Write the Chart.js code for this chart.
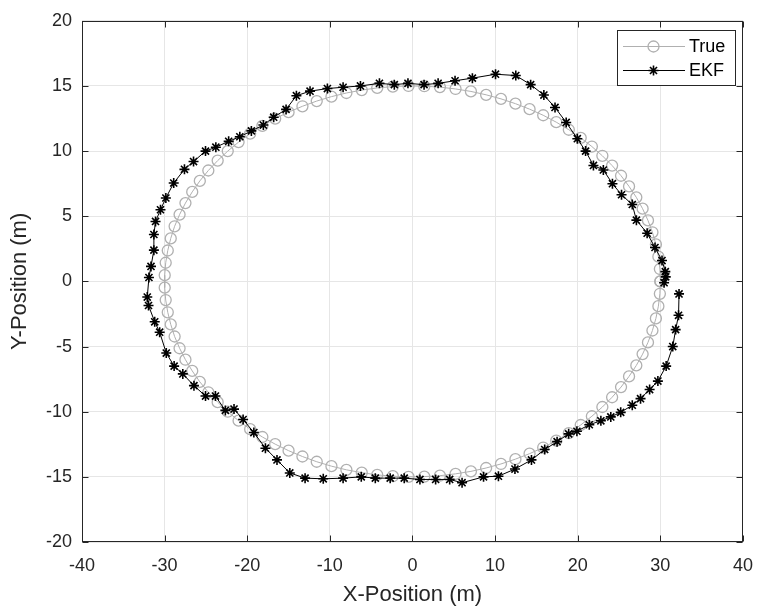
<!DOCTYPE html>
<html>
<head>
<meta charset="utf-8">
<script src="https://cdn.jsdelivr.net/npm/chart.js@4.4.1/dist/chart.umd.min.js"></script>
<style>
  body { margin: 0; background: #fff; }
  #wrap { width: 766px; height: 614px; }
</style>
</head>
<body>
<div id="wrap"><canvas id="chart"></canvas></div>
<script>
// DATA
var xTicks = [-40, -30, -20, -10, 0, 10, 20, 30, 40];
var yTicks = [-20, -15, -10, -5, 0, 5, 10, 15, 20];

var trueX = [30.00, 29.94, 29.76, 29.46, 29.04, 28.50, 27.85, 27.09, 26.21, 25.24, 24.16, 22.98, 21.71, 20.36, 18.92, 17.40, 15.82, 14.17, 12.46, 10.71, 8.91, 7.07, 5.21, 3.32, 1.43,
  -0.48, -2.38, -4.27, -6.14, -8.00, -9.81, -11.59, -13.32, -15.00, -16.62, -18.17, -19.65, -21.05, -22.36, -23.58, -24.71, -25.74, -26.66, -27.48, -28.19, -28.79, -29.26, -29.62, -29.87, -29.99,
  -29.99, -29.87, -29.62, -29.26, -28.79, -28.19, -27.48, -26.66, -25.74, -24.71, -23.58, -22.36, -21.05, -19.65, -18.17, -16.62, -15.00, -13.32, -11.59, -9.81, -8.00, -6.14, -4.27, -2.38, -0.48,
  1.43, 3.32, 5.21, 7.07, 8.91, 10.71, 12.46, 14.17, 15.82, 17.40, 18.92, 20.36, 21.71, 22.98, 24.16, 25.24, 26.21, 27.09, 27.85, 28.50, 29.04, 29.46, 29.76, 29.94, 30.00];
var trueY = [0.00, 0.95, 1.90, 2.84, 3.77, 4.68, 5.58, 6.45, 7.29, 8.11, 8.89, 9.64, 10.35, 11.02, 11.64, 12.22, 12.75, 13.22, 13.64, 14.01, 14.32, 14.58, 14.77, 14.91, 14.98,
  15.00, 14.95, 14.85, 14.68, 14.46, 14.18, 13.84, 13.44, 12.99, 12.49, 11.94, 11.34, 10.69, 10.00, 9.27, 8.51, 7.71, 6.87, 6.01, 5.13, 4.23, 3.30, 2.37, 1.43, 0.48,
  -0.48, -1.43, -2.37, -3.30, -4.23, -5.13, -6.01, -6.87, -7.71, -8.51, -9.27, -10.00, -10.69, -11.34, -11.94, -12.49, -12.99, -13.44, -13.84, -14.18, -14.46, -14.68, -14.85, -14.95, -15.00,
  -14.98, -14.91, -14.77, -14.58, -14.32, -14.01, -13.64, -13.22, -12.75, -12.22, -11.64, -11.02, -10.35, -9.64, -8.89, -8.11, -7.29, -6.45, -5.58, -4.68, -3.77, -2.84, -1.90, -0.95, 0.00];

var ekfX = [32.26, 32.2, 31.85, 31.5, 30.7, 29.7, 28.7, 27.6, 26.6, 25.2, 24.0, 22.8, 21.4, 19.9, 18.9, 17.5, 16.0, 14.4, 12.4, 10.4,
  8.6, 6.0, 4.5, 2.8, 0.9, -1.0, -2.7, -4.5, -6.2, -8.4, -10.8, -13.0, -14.85, -16.4, -17.8, -19.2, -20.5, -21.6, -22.65, -23.85,
  -25.05, -26.45, -27.8, -28.85, -29.8, -30.6, -31.2, -31.95, -32.1, -31.9, -31.65, -31.3, -31.3, -31.1, -30.5, -29.85, -28.9, -27.6, -26.5, -25.05,
  -23.8, -22.25, -20.9, -19.5, -18.05, -16.8, -15.3, -14.05, -12.4, -10.3, -8.4, -6.3, -4.0, -2.2, -0.55, 1.4, 3.1, 5.15, 7.25, 10.05,
  12.5, 14.3, 15.9, 17.25, 18.6, 19.95, 20.95, 21.9, 23.1, 24.2, 25.3, 26.6, 27.1, 28.4, 29.35, 30.2, 30.6, 30.65, 30.45];
var ekfY = [-0.96, -2.6, -3.7, -5.0, -6.5, -7.65, -8.3, -9.0, -9.5, -10.05, -10.4, -10.7, -11.0, -11.5, -11.7, -12.3, -12.9, -13.7, -14.4, -14.95,
  -15.0, -15.45, -15.2, -15.2, -15.2, -15.1, -15.1, -15.1, -15.0, -15.1, -15.15, -15.1, -14.7, -13.7, -12.8, -11.6, -10.6, -9.8, -9.9, -8.8,
  -8.8, -8.0, -7.1, -6.5, -5.5, -3.9, -3.1, -1.85, -1.2, 0.3, 1.15, 2.4, 3.6, 4.6, 5.5, 6.4, 7.55, 8.6, 9.2, 10.0,
  10.3, 10.75, 11.1, 11.55, 12.0, 12.6, 13.2, 14.25, 14.6, 14.8, 14.9, 15.0, 15.2, 15.1, 15.2, 15.1, 15.2, 15.4, 15.6, 15.9,
  15.8, 15.1, 14.3, 13.35, 12.2, 10.95, 10.0, 8.9, 8.55, 7.5, 6.65, 5.9, 4.7, 3.7, 2.6, 1.6, 0.75, 0.35, -0.1];

var seriesNames = ['True', 'EKF'];

// STYLE
var AXIS = '#262626';
var GRID = '#e6e6e6';
var GRAY = '#b0b0b0';
var FONT = '"Liberation Sans", Arial, Helvetica, sans-serif';

function toPoints(xs, ys) {
  return xs.map((x, i) => ({ x: x, y: ys[i] }));
}

// box + inward ticks + legend, drawn on top like MATLAB
var matlabAxes = {
  id: 'matlabAxes',
  afterDraw(chart) {
    const ctx = chart.ctx;
    const a = chart.chartArea;
    const sx = chart.scales.x, sy = chart.scales.y;
    const L = Math.round(a.left) + 0.5, R = Math.round(a.right) - 0.5;
    const T = Math.round(a.top) + 0.5, B = Math.round(a.bottom) - 0.5;
    const tl = 6;
    ctx.save();
    ctx.strokeStyle = AXIS;
    ctx.lineWidth = 1;
    ctx.strokeRect(L, T, R - L, B - T);
    ctx.beginPath();
    xTicks.forEach(v => {
      const px = Math.round(sx.getPixelForValue(v)) + 0.5;
      ctx.moveTo(px, B); ctx.lineTo(px, B - tl);
      ctx.moveTo(px, T); ctx.lineTo(px, T + tl);
    });
    yTicks.forEach(v => {
      const py = Math.round(sy.getPixelForValue(v)) + 0.5;
      ctx.moveTo(L, py); ctx.lineTo(L + tl, py);
      ctx.moveTo(R, py); ctx.lineTo(R - tl, py);
    });
    ctx.stroke();

    // legend
    const bx = 617.5, by = 30.5, bw = 118, bh = 55;
    ctx.fillStyle = '#fff';
    ctx.fillRect(bx, by, bw, bh);
    ctx.strokeStyle = AXIS;
    ctx.strokeRect(bx, by, bw, bh);
    const rows = [46, 70];
    ctx.font = '18px ' + FONT;
    ctx.textBaseline = 'middle';
    ctx.textAlign = 'left';
    chart.data.datasets.forEach((ds, i) => {
      const y = rows[i] + 0.5;
      ctx.strokeStyle = ds.borderColor;
      ctx.fillStyle = ds.pointBackgroundColor;
      ctx.lineWidth = 1;
      ctx.beginPath();
      ctx.moveTo(623, y); ctx.lineTo(685, y);
      ctx.stroke();
      ctx.lineWidth = ds.pointBorderWidth;
      Chart.helpers.drawPoint(ctx, {
        pointStyle: ds.pointStyle,
        radius: ds.pointRadius,
        borderWidth: ds.pointBorderWidth,
        rotation: 0
      }, 653.5, y);
      ctx.fillStyle = '#000';
      ctx.fillText(ds.label, 689, y + 1);
    });
    ctx.restore();
  }
};

var chart = new Chart(document.getElementById('chart'), {
  type: 'scatter',
  data: {
    datasets: [
      {
        label: seriesNames[0],
        data: toPoints(trueX, trueY),
        showLine: true,
        borderColor: GRAY,
        borderWidth: 1,
        pointStyle: 'circle',
        pointRadius: 5.5,
        pointBorderWidth: 1.3,
        pointBorderColor: GRAY,
        pointBackgroundColor: 'rgba(0,0,0,0)',
        order: 2
      },
      {
        label: seriesNames[1],
        data: toPoints(ekfX, ekfY),
        showLine: true,
        borderColor: '#000',
        borderWidth: 1,
        pointStyle: 'star',
        pointRadius: 5,
        pointBorderWidth: 1.6,
        pointBorderColor: '#000',
        pointBackgroundColor: '#000',
        order: 1
      }
    ]
  },
  options: {
    responsive: true,
    maintainAspectRatio: false,
    animation: false,
    events: [],
    layout: { padding: { top: 14, right: 16, left: 0, bottom: 0 } },
    plugins: {
      legend: { display: false },
      tooltip: { enabled: false }
    },
    scales: {
      x: {
        type: 'linear',
        min: -40, max: 40,
        afterBuildTicks: s => { s.ticks = xTicks.map(v => ({ value: v })); },
        afterFit: s => { s.height = 72; },
        ticks: { color: AXIS, font: { family: FONT, size: 18 }, padding: 13, maxRotation: 0 },
        grid: { color: GRID, drawTicks: false },
        border: { display: false },
        title: { display: true, text: 'X-Position (m)', color: AXIS, font: { family: FONT, size: 22 }, padding: { top: 0, bottom: 6 } }
      },
      y: {
        type: 'linear',
        min: -20, max: 20,
        afterBuildTicks: s => { s.ticks = yTicks.map(v => ({ value: v })); },
        afterFit: s => { s.width = 82; },
        ticks: { color: AXIS, font: { family: FONT, size: 18 }, padding: 10 },
        grid: { color: GRID, drawTicks: false },
        border: { display: false },
        title: { display: true, text: 'Y-Position (m)', color: AXIS, font: { family: FONT, size: 22 }, padding: { top: 7, bottom: 0 } }
      }
    }
  },
  plugins: [matlabAxes]
});
</script>
</body>
</html>
